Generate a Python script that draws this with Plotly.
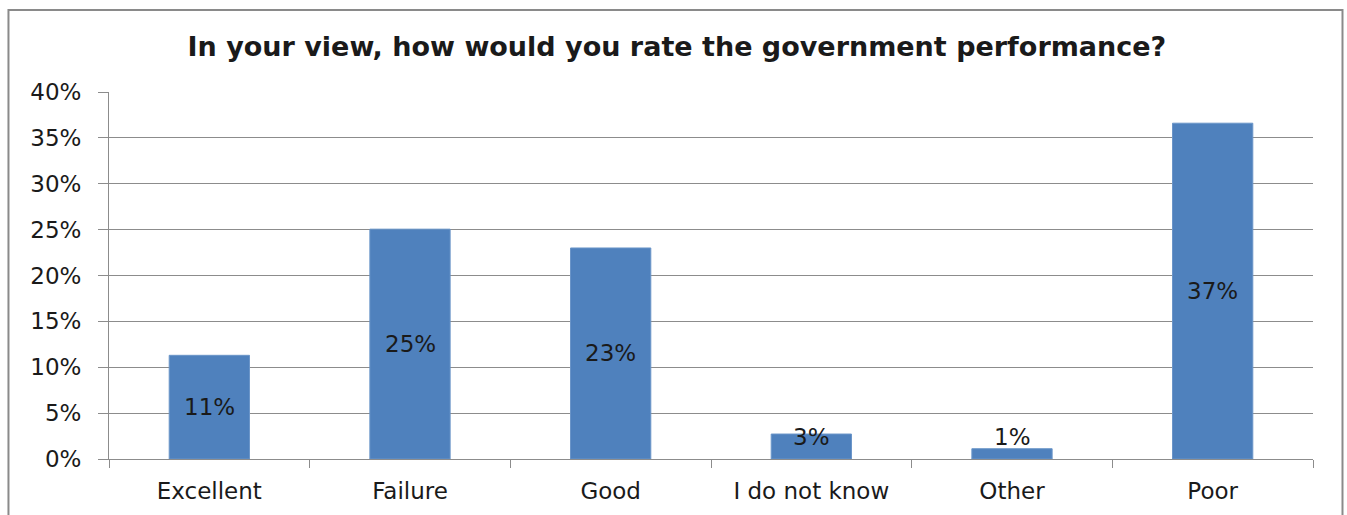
import plotly.graph_objects as go

categories = ["Excellent", "Failure", "Good", "I do not know", "Other", "Poor"]
shares = [11.3, 25.05, 23.0, 2.72, 1.12, 36.6]
y_ticks = [0, 5, 10, 15, 20, 25, 30, 35, 40]
y_tick_labels = [f"{t}%" for t in y_ticks]

BAR_BLUE = "#4F81BD"
GRID = "#8C8C8C"
TEXT = "#1A1A1A"
FONT = "DejaVu Sans"

fig = go.Figure(
    go.Bar(
        x=categories,
        y=shares,
        marker=dict(color=BAR_BLUE, line=dict(color="#6A95C8", width=1)),
        hoverinfo="skip",
    )
)

# value labels: centred in the bar, lifted clear of the axis for short bars
min_label_y = 2.4
for cat, v in zip(categories, shares):
    fig.add_annotation(
        x=cat, y=max(v / 2, min_label_y), xref="x", yref="y",
        text=f"{v:.0f}%", showarrow=False,
        font=dict(family=FONT, size=23, color=TEXT),
    )

# outer chart frame
fig.add_shape(
    type="rect", xref="paper", yref="paper",
    x0=-0.0835, x1=1.0245, y0=-0.2, y1=1.2235,
    line=dict(color="#8A8A8A", width=2), fillcolor="rgba(0,0,0,0)", layer="below",
)

fig.update_layout(
    width=1347, height=515,
    margin=dict(l=109, r=34, t=92, b=56),
    paper_bgcolor="white", plot_bgcolor="white",
    bargap=0.6,
    showlegend=False,
    title=dict(
        text="<b>In your view, how would you rate the government performance?</b>",
        x=0.5025, xanchor="center", xref="container", y=1 - 47 / 515, yanchor="middle",
        font=dict(family=FONT, size=27, color=TEXT),
    ),
    font=dict(family=FONT, size=22, color=TEXT),
)

fig.update_yaxes(
    range=[0, 40], tickvals=y_ticks, ticktext=y_tick_labels,
    showgrid=True, gridcolor=GRID, gridwidth=1,
    showline=True, linecolor=GRID, linewidth=1,
    ticks="outside", ticklen=10, tickcolor=GRID,
    ticklabelstandoff=12, zeroline=False,
    tickfont=dict(family=FONT, size=23, color=TEXT),
)
fig.update_xaxes(
    showline=True, linecolor=GRID, linewidth=1,
    ticks="outside", ticklen=8, tickcolor=GRID, tickson="boundaries",
    ticklabelstandoff=11,
    tickfont=dict(family=FONT, size=23, color=TEXT),
)

fig.write_html("out.html")
